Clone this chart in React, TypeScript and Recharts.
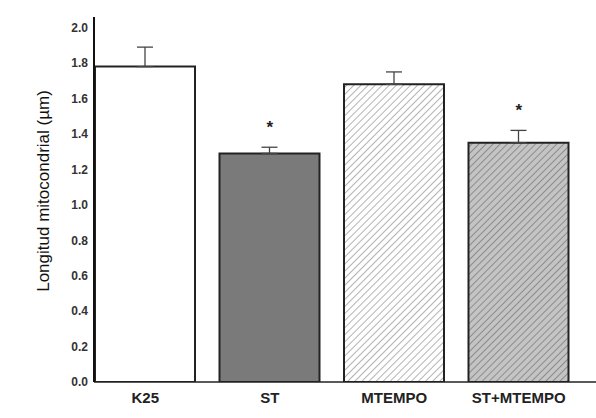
import React from "react";
import {
  ComposedChart,
  Bar,
  Cell,
  ErrorBar,
  Scatter,
  XAxis,
  YAxis,
  Label,
} from "recharts";

const groups = ["K25", "ST", "MTEMPO", "ST+MTEMPO"];
const means = [1.78, 1.29, 1.68, 1.35];
const sems = [0.11, 0.035, 0.07, 0.07];
const marks = ["", "*", "", "*"];
const yTicks = [0, 0.2, 0.4, 0.6, 0.8, 1.0, 1.2, 1.4, 1.6, 1.8, 2.0];

const fills = ["#ffffff", "#7a7a7a", "url(#hatchLight)", "url(#hatchDark)"];

const data = groups.map((g, i) => ({
  group: g,
  value: means[i],
  err: [0, sems[i]],
  star: marks[i] ? means[i] + sems[i] : null,
  mark: marks[i],
}));

const font = "'Liberation Sans', Arial, sans-serif";

const StarShape = (props: any) => {
  const { cx, cy, payload } = props;
  if (!payload || !payload.mark) return null;
  return (
    <text
      x={cx}
      y={cy - 14}
      textAnchor="middle"
      fontFamily={font}
      fontWeight="bold"
      fontSize={17}
      fill="#222"
    >
      {payload.mark}
    </text>
  );
};

const YTitle = () => (
  <text
    x={43}
    y={191}
    transform="rotate(-90 43 191)"
    textAnchor="middle"
    dominantBaseline="central"
    fontFamily={font}
    fontSize={17}
    fill="#111"
  >
    Longitud mitocondrial (µm)
  </text>
);

export default function App() {
  return (
    <div style={{ position: "absolute", left: 0, top: 0, background: "#fff" }}>
      <ComposedChart
        width={596}
        height={418}
        data={data}
        margin={{ top: 17, right: 0, bottom: 6, left: 0 }}
        barCategoryGap={12}
      >
        <defs>
          <pattern
            id="hatchLight"
            width="5"
            height="5"
            patternUnits="userSpaceOnUse"
            patternTransform="rotate(45)"
          >
            <rect width="5" height="5" fill="#ffffff" />
            <line x1="0" y1="0" x2="0" y2="5" stroke="#8a8a8a" strokeWidth="1.3" />
          </pattern>
          <pattern
            id="hatchDark"
            width="5"
            height="5"
            patternUnits="userSpaceOnUse"
            patternTransform="rotate(45)"
          >
            <rect width="5" height="5" fill="#c4c4c4" />
            <line x1="0" y1="0" x2="0" y2="5" stroke="#6e6e6e" strokeWidth="1.3" />
          </pattern>
        </defs>
        <XAxis
          dataKey="group"
          padding={{ left: -11, right: 15 }}
          axisLine={{ stroke: "#222", strokeWidth: 1.5 }}
          tickLine={false}
          tickMargin={4}
          height={30}
          tick={{ fill: "#222", fontSize: 15, fontWeight: "bold", fontFamily: font }}
        />
        <YAxis
          type="number"
          domain={[0, 2.06]}
          ticks={yTicks}
          width={94}
          allowDataOverflow
          axisLine={{ stroke: "#111", strokeWidth: 2 }}
          tickLine={false}
          tickSize={4}
          tickMargin={2}
          tickFormatter={(v: number) => v.toFixed(1)}
          tick={{ fill: "#333", fontSize: 12, fontWeight: "bold", fontFamily: font }}
        >
          <Label content={<YTitle />} />
        </YAxis>
        <Bar
          dataKey="value"
          barSize={100}
          stroke="#222"
          strokeWidth={2}
          isAnimationActive={false}
        >
          {data.map((d, i) => (
            <Cell key={d.group} fill={fills[i]} />
          ))}
          <ErrorBar dataKey="err" width={8} stroke="#444" strokeWidth={1.3} direction="y" />
        </Bar>
        <Scatter dataKey="star" shape={<StarShape />} isAnimationActive={false} />
      </ComposedChart>
    </div>
  );
}
